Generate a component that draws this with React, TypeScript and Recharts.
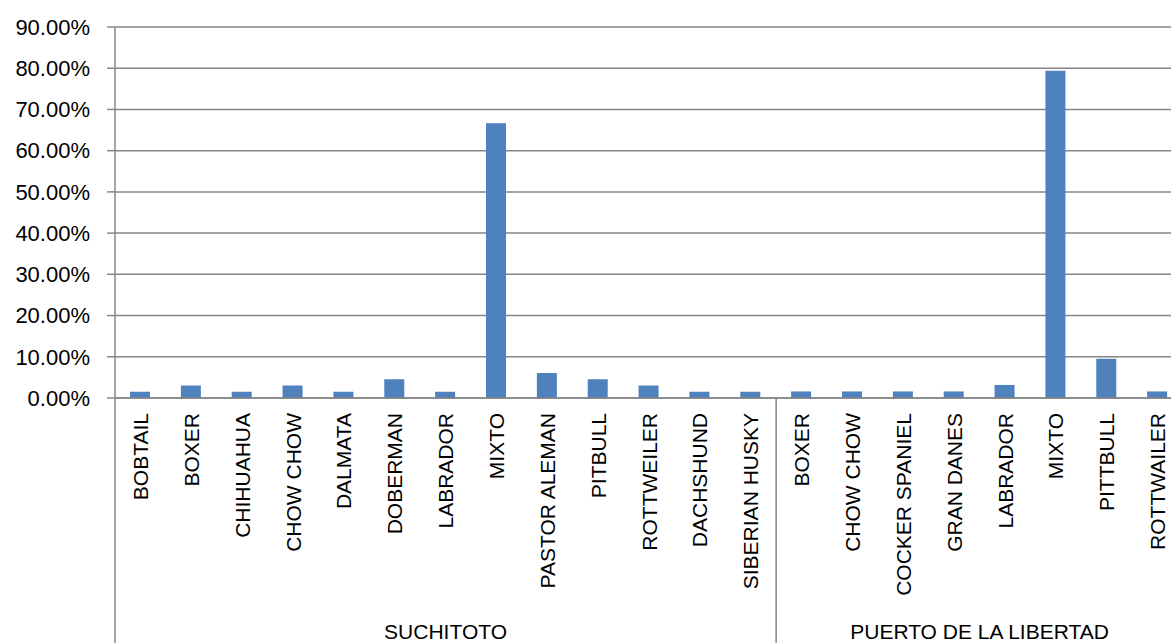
import React from 'react';
import { BarChart, Bar, XAxis, YAxis, CartesianGrid } from 'recharts';

const groups = ['SUCHITOTO', 'PUERTO DE LA LIBERTAD'];

const suchitotoBreeds = [
  'BOBTAIL', 'BOXER', 'CHIHUAHUA', 'CHOW CHOW', 'DALMATA', 'DOBERMAN', 'LABRADOR',
  'MIXTO', 'PASTOR ALEMAN', 'PITBULL', 'ROTTWEILER', 'DACHSHUND', 'SIBERIAN HUSKY',
];
const suchitotoValues = [1.52, 3.03, 1.52, 3.03, 1.52, 4.55, 1.52, 66.67, 6.06, 4.55, 3.03, 1.52, 1.52];

const libertadBreeds = [
  'BOXER', 'CHOW CHOW', 'COCKER SPANIEL', 'GRAN DANES', 'LABRADOR', 'MIXTO', 'PITTBULL', 'ROTTWAILER',
];
const libertadValues = [1.59, 1.59, 1.59, 1.59, 3.17, 79.37, 9.52, 1.59];

const yTicks = [0, 10, 20, 30, 40, 50, 60, 70, 80, 90];

const rows = [
  ...suchitotoBreeds.map((name, i) => ({ id: `s${i}`, name, group: 0, value: suchitotoValues[i] })),
  ...libertadBreeds.map((name, i) => ({ id: `l${i}`, name, group: 1, value: libertadValues[i] })),
];

const FONT = '"Liberation Sans", Arial, sans-serif';
const AXIS = '#868686';
const LINE_W = 1.5;

// rotated breed label, plus group separator + group name on the first tick of each group
function BreedTick(props: any) {
  const { x, y, payload } = props;
  const i = payload?.index ?? props.index;
  const row = rows[i];
  if (!row) return null;
  const half = payload?.offset > 0 ? payload.offset : 25.4;
  const isStart = i === 0 || rows[i - 1].group !== row.group;
  const count = rows.filter((r) => r.group === row.group).length;
  const ty = y + 15;
  return (
    <g>
      <text
        x={x}
        y={ty}
        transform={`rotate(-90 ${x} ${ty})`}
        textAnchor="end"
        dominantBaseline="central"
        fontFamily={FONT}
        fontSize={21}
        fill="#000"
      >
        {row.name}
      </text>
      {isStart && (
        <>
          <line x1={x - half} y1={y} x2={x - half} y2={y + 270} stroke={AXIS} strokeWidth={LINE_W} />
          <text
            x={x - half + count * half}
            y={y + 241}
            textAnchor="middle"
            fontFamily={FONT}
            fontSize={21}
            fill="#000"
          >
            {groups[row.group]}
          </text>
        </>
      )}
    </g>
  );
}

export default function App() {
  return (
    <div style={{ position: 'absolute', left: 0, top: 0, width: 1171, height: 643, overflow: 'hidden', background: '#fff' }}>
      <BarChart
        width={1195}
        height={660}
        data={rows}
        margin={{ top: 27, right: 12, bottom: 0, left: 0 }}
      >
        <CartesianGrid vertical={false} stroke={AXIS} strokeWidth={LINE_W} />
        <XAxis
          dataKey="id"
          height={262}
          interval={0}
          tickLine={false}
          tickSize={0}
          tickMargin={0}
          axisLine={{ stroke: AXIS, strokeWidth: LINE_W }}
          tick={<BreedTick />}
        />
        <YAxis
          width={115}
          domain={[0, 90]}
          ticks={yTicks}
          interval={0}
          tickSize={8}
          tickMargin={17}
          tickLine={{ stroke: AXIS, strokeWidth: LINE_W }}
          axisLine={{ stroke: AXIS, strokeWidth: LINE_W }}
          tickFormatter={(v: number) => `${v.toFixed(2)}%`}
          tick={{ fontFamily: FONT, fontSize: 22, fill: '#000' }}
        />
        <Bar dataKey="value" fill="#4F81BD" barSize={20} isAnimationActive={false} />
      </BarChart>
    </div>
  );
}
